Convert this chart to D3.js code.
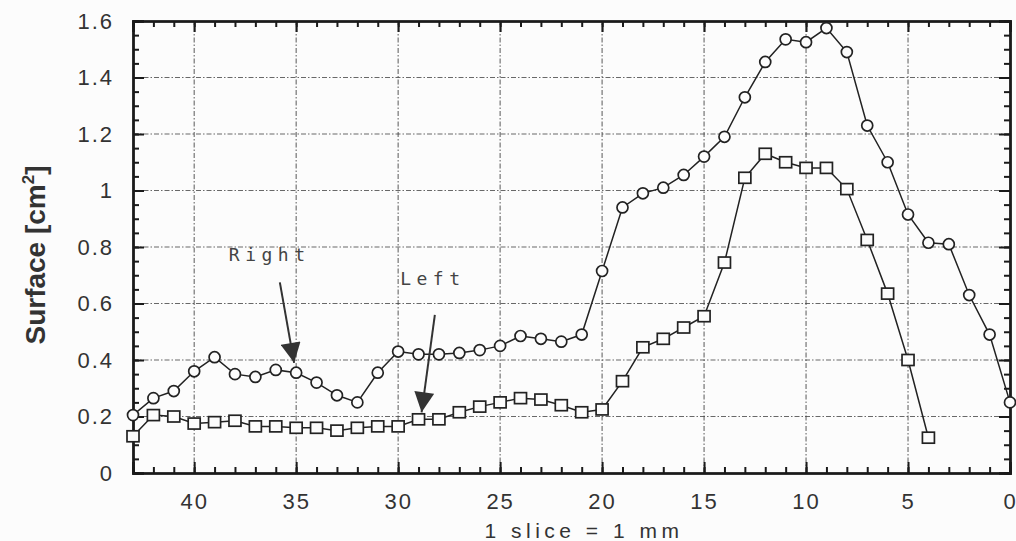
<!DOCTYPE html>
<html>
<head>
<meta charset="utf-8">
<script src="https://cdn.jsdelivr.net/npm/d3@7"></script>
<style>
  body { margin: 0; background: #fcfcfc; }
  svg { display: block; }
  .grid line { stroke: #444; stroke-width: 1.1; stroke-dasharray: 5 2 1.5 2; opacity: 0.8; }
  .frame path, .frame line { stroke: #1a1a1a; stroke-width: 2; }
  .axis text { font-family: 'Liberation Sans', Arial, sans-serif; font-size: 22px; fill: #333; letter-spacing: 2px; }
  .series path { fill: none; stroke: #222; stroke-width: 1.5; }
  .note { font-family: 'DejaVu Sans Mono', monospace; font-size: 18px; fill: #444; letter-spacing: 5.5px; }
</style>
</head>
<body>
<svg></svg>
<script>
// slice index (x axis runs from 43 down to 0)
const slicesRight = [43, 42, 41, 40, 39, 38, 37, 36, 35, 34, 33, 32, 31, 30, 29, 28, 27, 26, 25, 24, 23, 22,
  21, 20, 19, 18, 17, 16, 15, 14, 13, 12, 11, 10, 9, 8, 7, 6, 5, 4, 3, 2, 1, 0];
const surfaceRight = [0.205, 0.265, 0.29, 0.36, 0.41, 0.35, 0.34, 0.365, 0.355, 0.32, 0.275, 0.25, 0.355, 0.43,
  0.42, 0.42, 0.425, 0.435, 0.45, 0.485, 0.475, 0.465, 0.49, 0.715, 0.94, 0.99, 1.01, 1.055, 1.12, 1.19,
  1.33, 1.455, 1.535, 1.525, 1.575, 1.49, 1.23, 1.10, 0.915, 0.815, 0.81, 0.63, 0.49, 0.25];

const slicesLeft = [43, 42, 41, 40, 39, 38, 37, 36, 35, 34, 33, 32, 31, 30, 29, 28, 27, 26, 25, 24, 23, 22,
  21, 20, 19, 18, 17, 16, 15, 14, 13, 12, 11, 10, 9, 8, 7, 6, 5, 4];
const surfaceLeft = [0.13, 0.205, 0.20, 0.175, 0.18, 0.185, 0.165, 0.165, 0.16, 0.16, 0.15, 0.16, 0.165, 0.165,
  0.19, 0.19, 0.215, 0.235, 0.25, 0.265, 0.26, 0.24, 0.215, 0.225, 0.325, 0.445, 0.475, 0.515, 0.555,
  0.745, 1.045, 1.13, 1.10, 1.08, 1.08, 1.005, 0.825, 0.635, 0.40, 0.125];

const xTicks = [40, 35, 30, 25, 20, 15, 10, 5, 0];
const yTicks = [0, 0.2, 0.4, 0.6, 0.8, 1, 1.2, 1.4, 1.6];
const yLabels = ['0', '0.2', '0.4', '0.6', '0.8', '1', '1.2', '1.4', '1.6'];

// annotation anchors, in data units: [label, label x, label y, arrow from x, from y, arrow to x, to y]
const noteRight = ['Right', 38.3, 0.75, 35.8, 0.675, 35.1, 0.39];
const noteLeft = ['Left', 29.9, 0.665, 28.2, 0.56, 28.85, 0.215];

const width = 1016, height = 541;
const margin = {top: 21, right: 6, bottom: 68, left: 133};

const svg = d3.select('svg').attr('width', width).attr('height', height);

const x = d3.scaleLinear().domain([43, 0]).range([margin.left, width - margin.right]);
const y = d3.scaleLinear().domain([0, 1.6]).range([height - margin.bottom, margin.top]);

// grid
const grid = svg.append('g').attr('class', 'grid');
grid.selectAll('line.v').data(xTicks.filter(d => d > 0)).enter().append('line')
  .attr('x1', d => x(d)).attr('x2', d => x(d))
  .attr('y1', y(0)).attr('y2', y(1.6));
grid.selectAll('line.h').data(yTicks.filter(d => d > 0 && d < 1.6)).enter().append('line')
  .attr('x1', x(43)).attr('x2', x(0))
  .attr('y1', d => y(d)).attr('y2', d => y(d));

// frame: ticks point inwards, minor ticks every slice / every 0.05
const xMinor = d3.range(43, -1, -1);
const yMinor = d3.range(0, 1.6001, 0.05);

function frame(makeAxis, scale, minor, major, pos) {
  svg.append('g').attr('class', 'frame').attr('transform', pos)
    .call(makeAxis(scale).tickValues(minor).tickSize(6).tickFormat(() => ''));
  const g2 = svg.append('g').attr('class', 'frame').attr('transform', pos)
    .call(makeAxis(scale).tickValues(major).tickSize(11).tickFormat(() => ''));
  g2.select('.domain').style('stroke-width', 2.6);
}

frame(d3.axisTop, x, xMinor, xTicks, `translate(0,${y(0)})`);
frame(d3.axisBottom, x, xMinor, xTicks, `translate(0,${y(1.6)})`);
frame(d3.axisLeft, y, yMinor, yTicks, `translate(${x(0)},0)`);
frame(d3.axisRight, y, yMinor, yTicks, `translate(${x(43)},0)`);

// tick labels
const xl = svg.append('g').attr('class', 'axis').attr('transform', `translate(0,${y(0)})`)
  .call(d3.axisBottom(x).tickValues(xTicks).tickSize(0).tickPadding(20).tickFormat(d3.format('d')));
xl.select('.domain').remove();
const yl = svg.append('g').attr('class', 'axis').attr('transform', `translate(${x(43)},0)`)
  .call(d3.axisLeft(y).tickValues(yTicks).tickSize(0).tickPadding(19).tickFormat((d, i) => yLabels[i]));
yl.select('.domain').remove();

svg.append('text')
  .attr('x', 584).attr('y', 538)
  .attr('text-anchor', 'middle')
  .style('font-family', "'Liberation Sans', Arial, sans-serif")
  .style('font-size', '21px').style('letter-spacing', '4.5px').style('fill', '#333')
  .text('1 slice = 1 mm');

svg.append('text')
  .attr('transform', `translate(45,${(y(0) + y(1.6)) / 2 + 8}) rotate(-90)`)
  .attr('text-anchor', 'middle')
  .style('font-family', "'Liberation Sans', Arial, sans-serif")
  .style('font-size', '28px').style('font-weight', 'bold').style('fill', '#333')
  .html('Surface [cm<tspan dy="-11" font-size="17">2</tspan><tspan dy="11">]</tspan>');

// series
const line = d3.line().x(d => x(d[0])).y(d => y(d[1]));
const right = d3.zip(slicesRight, surfaceRight);
const left = d3.zip(slicesLeft, surfaceLeft);

const gs = svg.append('g').attr('class', 'series');
gs.append('path').attr('d', line(right));
gs.append('path').attr('d', line(left));

gs.selectAll('circle').data(right).enter().append('circle')
  .attr('cx', d => x(d[0])).attr('cy', d => y(d[1])).attr('r', 5.5)
  .attr('fill', '#fcfcfc').attr('stroke', '#222').attr('stroke-width', 1.7);
gs.selectAll('rect').data(left).enter().append('rect')
  .attr('x', d => x(d[0]) - 6).attr('y', d => y(d[1]) - 5.5).attr('width', 12).attr('height', 11)
  .attr('fill', '#fcfcfc').attr('stroke', '#222').attr('stroke-width', 1.7);

// annotations
svg.append('defs').append('marker')
  .attr('id', 'head').attr('viewBox', '0 0 10 10').attr('refX', 10).attr('refY', 5)
  .attr('markerWidth', 22).attr('markerHeight', 20).attr('markerUnits', 'userSpaceOnUse')
  .attr('orient', 'auto')
  .append('path').attr('d', 'M0,0 L10,5 L0,10 z').attr('fill', '#333');

[noteRight, noteLeft].forEach(n => {
  svg.append('text').attr('class', 'note').attr('x', x(n[1])).attr('y', y(n[2])).text(n[0]);
  svg.append('line')
    .attr('x1', x(n[3])).attr('y1', y(n[4])).attr('x2', x(n[5])).attr('y2', y(n[6]))
    .attr('stroke', '#333').attr('stroke-width', 2)
    .attr('marker-end', 'url(#head)');
});
</script>
</body>
</html>
